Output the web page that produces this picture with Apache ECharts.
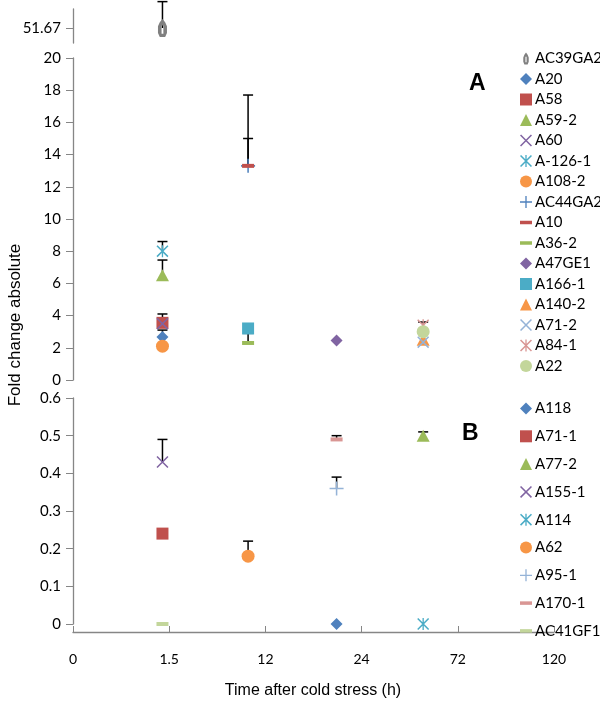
<!DOCTYPE html>
<html><head><meta charset="utf-8">
<script src="https://cdn.jsdelivr.net/npm/echarts@6/dist/echarts.min.js"></script>
<style>html,body{margin:0;padding:0;background:#fff}#c{width:600px;height:705px}</style>
</head><body><div id="c"></div>
<script>
// ---------- data ----------
const timeLabels = ['0', '1.5', '12', '24', '72', '120'];
// where each sampled time sits on the 0..5 axis (points sit slightly left of their tick, as in the original)
const timeSlot = { '1.5': 0.93, '12': 1.82, '24': 2.74, '72': 3.64 };

const genesA  = ['AC39GA2','A20','A58','A59-2','A60','A-126-1','A108-2','AC44GA2','A10','A36-2','A47GE1','A166-1','A140-2','A71-2','A84-1','A22'];
const timesA  = ['1.5','1.5','1.5','1.5','1.5','1.5','1.5','12','12','12','24','12','72','72','72','72'];
const valuesA = [51.67, 2.67, 3.55, 6.5, 3.5, 8.0, 2.1, 13.3, 13.3, 2.3, 2.45, 3.2, 2.5, 2.35, 3.4, 3.0];
const errTopA = [54.6, 3.1, 4.1, 7.45, null, 8.6, null, 15.0, 17.7, 2.9, null, 3.4, null, null, 3.6, null];

const genesB  = ['A118','A71-1','A77-2','A155-1','A114','A62','A95-1','A170-1','AC41GF1'];
const timesB  = ['24','1.5','72','1.5','72','12','24','24','1.5'];
const valuesB = [0, 0.24, 0.5, 0.43, 0, 0.18, 0.36, 0.49, 0];
const errTopB = [null, null, 0.51, 0.49, null, 0.22, 0.39, 0.5, null];

const breakValue = 51.67;

// ---------- styles ----------
const P = {
  vase: 'path://M5,0 L8,4 L10,9 L10,17 L8,22 L2,22 L0,17 L0,9 L2,4 Z M4,8 L4,18 L6,18 L6,8 Z',
  x: 'path://M0,1.8 L1.8,0 L20,18.2 L18.2,20 Z M1.8,20 L0,18.2 L18.2,0 L20,1.8 Z',
  star: 'path://M0,1.8 L1.8,0 L20,18.2 L18.2,20 Z M1.8,20 L0,18.2 L18.2,0 L20,1.8 Z M8.9,0 L11.1,0 L11.1,20 L8.9,20 Z',
  plus: 'path://M8.9,0 H11.1 V8.9 H20 V11.1 H11.1 V20 H8.9 V11.1 H0 V8.9 H8.9 Z',
  dash: 'path://M0,0 H12 V3.5 H0 Z'
};
const shapes = {
  vase:   { symbol: P.vase, size: [9, 18] },
  diamond:{ symbol: 'diamond', size: [12, 12] },
  square: { symbol: 'rect', size: [12, 12] },
  tri:    { symbol: 'triangle', size: [13, 12] },
  x:      { symbol: P.x, size: [12, 12] },
  star:   { symbol: P.star, size: [12, 12] },
  circle: { symbol: 'circle', size: [13, 13] },
  plus:   { symbol: P.plus, size: [14, 14] },
  dash:   { symbol: 'rect', size: [12, 4] }
};
const shapeA = ['vase','diamond','square','tri','x','star','circle','plus','dash','dash','diamond','square','tri','x','star','circle'];
const colorA = ['#808080','#4F81BD','#C0504D','#9BBB59','#8064A2','#4BACC6','#F79646','#4F81BD','#C0504D','#9BBB59','#8064A2','#4BACC6','#F79646','#95B3D7','#D99694','#C3D69B'];
const shapeB = ['diamond','square','tri','x','star','circle','plus','dash','dash'];
const colorB = ['#4F81BD','#C0504D','#9BBB59','#8064A2','#4BACC6','#F79646','#95B3D7','#D99694','#C3D69B'];

const AXC = '#868686';
const FONT = 'Lato';

function errRender(params, api) {
  const x = api.value(0), lo = api.value(1), hi = api.value(2);
  const p0 = api.coord([x, lo]), p1 = api.coord([x, hi]);
  const st = { stroke: '#000', lineWidth: 1.5 };
  return { type: 'group', children: [
    { type: 'line', shape: { x1: p0[0], y1: p0[1], x2: p1[0], y2: p1[1] }, style: st },
    { type: 'line', shape: { x1: p1[0] - 5, y1: p1[1], x2: p1[0] + 5, y2: p1[1] }, style: st }
  ]};
}

const series = [];
const errTop = [], errMid = [], errBot = [];

genesA.forEach((g, i) => {
  const gi = valuesA[i] > 20 ? 0 : 1;
  const sh = shapes[shapeA[i]];
  series.push({
    type: 'scatter', name: g, xAxisIndex: gi, yAxisIndex: gi,
    data: [[timeSlot[timesA[i]], valuesA[i]]],
    symbol: sh.symbol, symbolSize: sh.size,
    itemStyle: { color: colorA[i], opacity: 1 }, z: 3
  });
  if (errTopA[i] != null) (gi === 0 ? errTop : errMid).push([timeSlot[timesA[i]], valuesA[i], errTopA[i]]);
});
genesB.forEach((g, i) => {
  const sh = shapes[shapeB[i]];
  series.push({
    type: 'scatter', name: g, xAxisIndex: 2, yAxisIndex: 2,
    data: [[timeSlot[timesB[i]], valuesB[i]]],
    symbol: sh.symbol, symbolSize: sh.size,
    itemStyle: { color: colorB[i], opacity: 1 }, z: 3
  });
  if (errTopB[i] != null) errBot.push([timeSlot[timesB[i]], valuesB[i], errTopB[i]]);
});
[errTop, errMid, errBot].forEach((d, k) => series.push({
  type: 'custom', xAxisIndex: k, yAxisIndex: k, data: d, renderItem: errRender,
  encode: { x: 0, y: [1, 2] }, clip: false, z: 2, silent: true
}));

function legendIcon(s) {
  if (s === 'dash') return P.dash;
  return shapes[s].symbol === 'rect' ? 'rect' : shapes[s].symbol;
}

const gridL = 73, gridW = 481;
const xBase = { type: 'value', min: 0, max: 5, interval: 1 };
const yTick = { show: true, length: 7, lineStyle: { color: AXC } };
const yLine = { show: true, lineStyle: { color: AXC, width: 1.3 } };
const yLab = { color: '#000', fontFamily: FONT, fontSize: 15, margin: 12 };

const option = {
  animation: false,
  backgroundColor: '#fff',
  grid: [
    { left: gridL, width: gridW, top: 9, height: 34 },
    { left: gridL, width: gridW, top: 58, height: 322 },
    { left: gridL, width: gridW, top: 398, height: 226 },
    { left: gridL, width: gridW, top: 624, height: 8 }
  ],
  xAxis: [
    Object.assign({ gridIndex: 0, show: false }, xBase),
    Object.assign({ gridIndex: 1, show: false }, xBase),
    Object.assign({ gridIndex: 2, show: false }, xBase),
    Object.assign({
      gridIndex: 3,
      axisLine: { show: true, lineStyle: { color: AXC, width: 1.3 } },
      axisTick: { show: true, inside: true, length: 6, lineStyle: { color: AXC } },
      axisLabel: { color: '#000', fontFamily: FONT, fontSize: 14, margin: 20,
        showMinLabel: true, showMaxLabel: true,
        formatter: v => timeLabels[Math.round(v)] },
      splitLine: { show: false }
    }, xBase)
  ],
  yAxis: [
    { gridIndex: 0, type: 'value', min: 50, max: 53.78, axisLine: yLine,
      axisTick: Object.assign({ customValues: [breakValue] }, yTick),
      axisLabel: Object.assign({ customValues: [breakValue], formatter: v => v.toFixed(2) }, yLab),
      splitLine: { show: false } },
    { gridIndex: 1, type: 'value', min: 0, max: 20, interval: 2, axisLine: yLine, axisTick: yTick,
      axisLabel: yLab, splitLine: { show: false } },
    { gridIndex: 2, type: 'value', min: 0, max: 0.6, interval: 0.1, axisLine: yLine, axisTick: yTick,
      axisLabel: Object.assign({ formatter: v => v === 0 ? '0' : v.toFixed(1) }, yLab), splitLine: { show: false } },
    { gridIndex: 3, type: 'value', show: false, min: 0, max: 1 }
  ],
  legend: [
    { orient: 'vertical', left: 515, top: 46, itemWidth: 12, itemHeight: 12, itemGap: 5.5,
      textStyle: { fontFamily: FONT, fontSize: 15, color: '#000', padding: [0, 0, 0, -2] },
      selectedMode: false,
      data: genesA.map((g, i) => ({ name: g, icon: legendIcon(shapeA[i]) })) },
    { orient: 'vertical', left: 515, top: 396, itemWidth: 12, itemHeight: 12, itemGap: 12.8,
      textStyle: { fontFamily: FONT, fontSize: 15, color: '#000', padding: [0, 0, 0, -2] },
      selectedMode: false,
      data: genesB.map((g, i) => ({ name: g, icon: legendIcon(shapeB[i]) })) }
  ],
  graphic: [
    { type: 'text', left: 469, top: 72, style: { text: 'A', font: 'bold 23px "Liberation Sans", Arial', fill: '#000' } },
    { type: 'text', left: 462, top: 422, style: { text: 'B', font: 'bold 23px "Liberation Sans", Arial', fill: '#000' } },
    { type: 'text', x: 15, y: 325, rotation: Math.PI / 2,
      style: { text: 'Fold change absolute', font: '17px "Liberation Sans", Arial', fill: '#000', align: 'center', verticalAlign: 'middle' } },
    { type: 'text', x: 313, y: 691,
      style: { text: 'Time after cold stress (h)', font: '16px "Liberation Sans", Arial', fill: '#000', align: 'center', verticalAlign: 'middle' } }
  ],
  series: series
};

const chart = echarts.init(document.getElementById('c'), null, { renderer: 'canvas' });
chart.setOption(option);
</script>
</body></html>
